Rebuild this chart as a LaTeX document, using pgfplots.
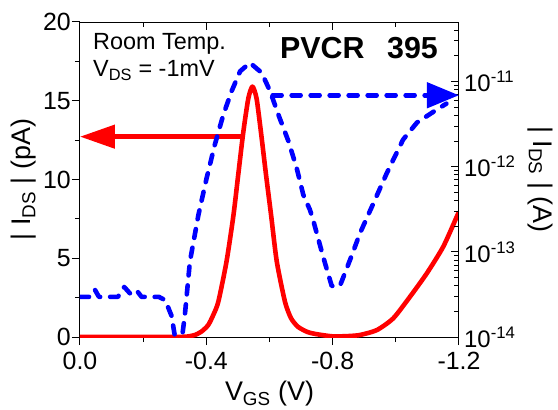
\documentclass[border=0pt]{standalone}
\usepackage{fontspec}
\setmainfont{Liberation Sans}
\usepackage{pgfplots}
\pgfplotsset{compat=1.18}
\usetikzlibrary{arrows.meta}
\definecolor{myred}{RGB}{255,0,0}
\definecolor{myblue}{RGB}{0,0,255}

\begin{document}
\begin{tikzpicture}
\pgfplotsset{
  every axis/.append style={
    scale only axis, width=379bp, height=315bp,
    xmin=-1.2, xmax=0, x dir=reverse,
    axis line style={line width=1bp},
    every tick/.style={black, line width=1bp},
    major tick length=8bp, minor tick length=5bp,
    tick label style={font=\fontsize{25}{30}\selectfont},
    label style={font=\fontsize{27}{32}\selectfont},
    xtick={0,-0.4,-0.8,-1.2},
    minor x tick num=1,
  }
}
\begin{axis}[
  axis x line*=bottom, axis y line*=left,
  tick align=outside,
  ymin=0, ymax=20,
  ytick={0,5,10,15,20}, yticklabels={0,5,10,15,20},
  minor y tick num=1,
  xticklabels={0.0,-0.4,-0.8,-1.2},
  xlabel={V\textsubscript{GS} (V)},
  ylabel={| I\textsubscript{DS} | (pA)},
  yticklabel style={inner sep=1bp},
  xticklabel style={yshift=-4bp},
  xlabel style={yshift=-4bp},
  ylabel style={yshift=2bp},
]
\addplot[myred, line width=4.6bp, line join=round, smooth, tension=0.4] coordinates {
(0,0) (-0.1,0) (-0.2,0) (-0.3,0) (-0.34,0.03) (-0.364,0.13) (-0.385,0.35)
(-0.406,0.76) (-0.422,1.4) (-0.438,2.24) (-0.464,4.8) (-0.486,7.75) (-0.501,10.3)
(-0.517,13.0) (-0.533,15.15) (-0.546,15.9) (-0.559,15.15) (-0.573,13.0)
(-0.589,10.3) (-0.605,7.75) (-0.623,4.8) (-0.649,2.24) (-0.668,1.2) (-0.69,0.65)
(-0.72,0.32) (-0.749,0.18) (-0.8,0.04) (-0.85,0.06) (-0.887,0.13) (-0.94,0.44)
(-0.992,1.19) (-1.045,2.56) (-1.098,4.04) (-1.15,5.73) (-1.193,7.64) (-1.2,7.95)
};
\addplot[myred, line width=4.6bp, -{Triangle[length=35bp,width=23bp]}] coordinates {
(-0.512,12.72) (0,12.72)
};
\end{axis}
\begin{axis}[
  axis x line*=top, axis y line*=right,
  tick align=inside,
  ymode=log, ymin=1e-14, ymax=5e-11,
  ytick={1e-14,1e-13,1e-12,1e-11},
  yticklabels={10\textsuperscript{-14},10\textsuperscript{-13},10\textsuperscript{-12},10\textsuperscript{-11}},
  minor ytick={2e-14,3e-14,4e-14,5e-14,6e-14,7e-14,8e-14,9e-14,
    2e-13,3e-13,4e-13,5e-13,6e-13,7e-13,8e-13,9e-13,
    2e-12,3e-12,4e-12,5e-12,6e-12,7e-12,8e-12,9e-12,
    2e-11,3e-11,4e-11},
  xticklabels={},
  ylabel={| I\textsubscript{DS} | (A)},
  ylabel style={rotate=180, yshift=11bp, inner sep=0pt},
  yticklabel style={font=\fontsize{24}{28}\selectfont, inner sep=1bp, xshift=4bp},
]
\addplot[myblue, line width=4.6bp, line cap=round, line join=round, dash pattern=on 9bp off 10bp] coordinates {
(0,2.96e-14) (-0.03,2.96e-14) (-0.047,3.6e-14) (-0.06,2.96e-14) (-0.12,2.96e-14)
(-0.14,3.87e-14) (-0.16,3.2e-14) (-0.18,3.5e-14) (-0.195,2.96e-14) (-0.25,2.96e-14)
(-0.27,2.7e-14) (-0.29,1.77e-14) (-0.305,8e-15) (-0.32,8e-15) (-0.332,1.81e-14)
(-0.348,7.69e-14) (-0.375,2.72e-13) (-0.401,7.36e-13) (-0.427,1.82e-12)
(-0.454,4.09e-12) (-0.48,7.69e-12) (-0.507,1.32e-11) (-0.538,1.66e-11)
(-0.575,1.27e-11) (-0.602,7.69e-12) (-0.628,4.09e-12) (-0.66,1.99e-12)
(-0.686,9.66e-13) (-0.707,4.69e-13) (-0.728,3.12e-13) (-0.738,2.38e-13)
(-0.77,8.73e-14) (-0.797,3.98e-14) (-0.823,3.98e-14) (-0.855,8.05e-14)
(-0.887,1.67e-13) (-0.924,3.38e-13) (-0.972,8.5e-13) (-1.023,2.08e-12)
(-1.067,3.3e-12) (-1.13,4.69e-12) (-1.16,5.5e-12)
};
\addplot[myblue, line width=4.6bp, line cap=round, dash pattern=on 9bp off 10bp, -{Triangle[length=32bp,width=25bp]}] coordinates {
(-0.61,6.9e-12) (-1.2,6.9e-12)
};
\end{axis}
\node[anchor=base west, inner sep=0, font=\fontsize{23.5}{28}\selectfont] at ([shift={(13bp,287bp)}]current axis.south west) {Room Temp.};
\node[anchor=base west, inner sep=0, font=\fontsize{23.5}{28}\selectfont] at ([shift={(13bp,260bp)}]current axis.south west) {V\textsubscript{DS} = -1mV};
\node[anchor=base west, inner sep=0, font=\fontsize{30.5}{36}\selectfont\bfseries] at ([shift={(200bp,278bp)}]current axis.south west) {PVCR};
\node[anchor=base west, inner sep=0, font=\fontsize{30.5}{36}\selectfont\bfseries] at ([shift={(307bp,278bp)}]current axis.south west) {395};
\path[use as bounding box] ([shift={(-80bp,-73bp)}]current axis.south west) rectangle ([shift={(99bp,22bp)}]current axis.north east);
\end{tikzpicture}
\end{document}
